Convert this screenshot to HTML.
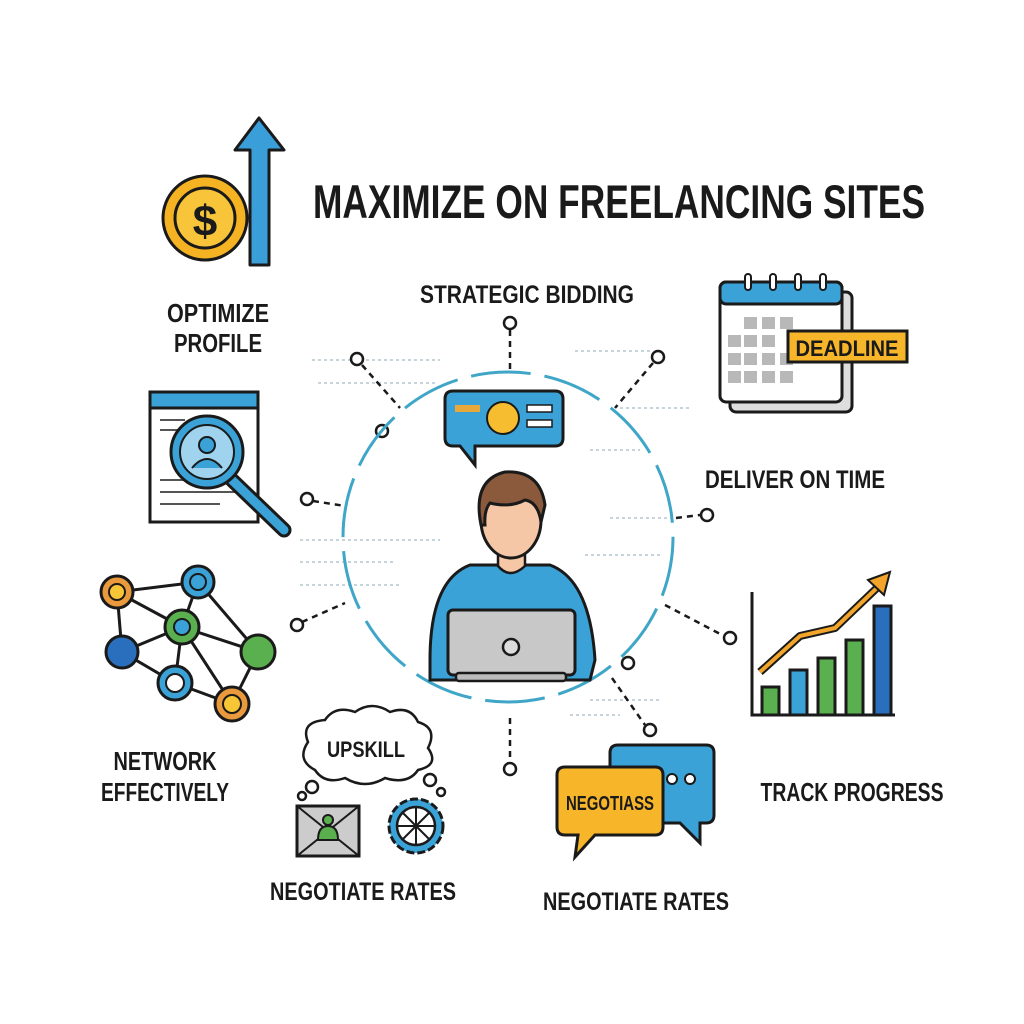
<!DOCTYPE html>
<html><head><meta charset="utf-8"><style>
html,body{margin:0;padding:0;background:#fff}
svg{display:block}
text{font-family:"Liberation Sans",sans-serif;font-weight:bold;fill:#1a1a1a}
</style></head><body>
<svg width="1024" height="1024" viewBox="0 0 1024 1024" xmlns="http://www.w3.org/2000/svg">
<rect width="1024" height="1024" fill="#fff"/>
<g stroke="#c8d4dc" stroke-width="2" stroke-dasharray="3 3">
<line x1="312" y1="360" x2="440" y2="360"/><line x1="318" y1="383" x2="436" y2="383"/>
<line x1="300" y1="540" x2="440" y2="540"/><line x1="300" y1="562" x2="395" y2="562"/>
<line x1="300" y1="585" x2="400" y2="585"/><line x1="575" y1="351" x2="650" y2="351"/>
<line x1="620" y1="408" x2="690" y2="408"/><line x1="590" y1="450" x2="640" y2="450"/>
<line x1="610" y1="518" x2="680" y2="518"/><line x1="585" y1="555" x2="660" y2="555"/>
<line x1="590" y1="700" x2="660" y2="700"/><line x1="570" y1="715" x2="620" y2="715"/>
</g>
<text x="313" y="218" font-size="47" textLength="612" lengthAdjust="spacingAndGlyphs">MAXIMIZE ON FREELANCING SITES</text>
<polygon points="250,265 250,150 235,150 259,118 284,150 269,150 269,265" fill="#3a9fd8" stroke="#1a1a1a" stroke-width="3" stroke-linejoin="round"/>
<circle cx="205" cy="218" r="42" fill="#f5b324" stroke="#1a1a1a" stroke-width="3"/>
<circle cx="205" cy="218" r="30" fill="#f8c53a" stroke="#1a1a1a" stroke-width="3"/>
<text x="205" y="236" font-size="44" text-anchor="middle">$</text>
<text x="218" y="322" font-size="26" text-anchor="middle" textLength="102" lengthAdjust="spacingAndGlyphs">OPTIMIZE</text>
<text x="218" y="352" font-size="26" text-anchor="middle" textLength="88" lengthAdjust="spacingAndGlyphs">PROFILE</text>
<text x="527" y="303" font-size="25" text-anchor="middle" textLength="214" lengthAdjust="spacingAndGlyphs">STRATEGIC BIDDING</text>
<g stroke="#1a1a1a" stroke-width="2.5" stroke-dasharray="6 5" fill="none">
<line x1="510" y1="330" x2="510" y2="370"/><line x1="362" y1="365" x2="400" y2="408"/>
<line x1="653" y1="363" x2="615" y2="408"/><line x1="313" y1="501" x2="345" y2="506"/>
<line x1="676" y1="518" x2="700" y2="515"/><line x1="302" y1="622" x2="345" y2="603"/>
<line x1="665" y1="605" x2="724" y2="636"/><line x1="612" y1="678" x2="645" y2="725"/>
<line x1="510" y1="718" x2="510" y2="763"/>
</g>
<g fill="#fff" stroke="#1a1a1a" stroke-width="2.5">
<circle cx="510" cy="323" r="6"/><circle cx="357" cy="359" r="6"/><circle cx="658" cy="357" r="6"/>
<circle cx="382" cy="431" r="6"/><circle cx="307" cy="499" r="6"/><circle cx="707" cy="515" r="6"/>
<circle cx="297" cy="625" r="6"/><circle cx="730" cy="638" r="6"/><circle cx="628" cy="663" r="6"/>
<circle cx="650" cy="730" r="6"/><circle cx="510" cy="769" r="6"/>
</g>
<circle cx="508" cy="537" r="165" fill="none" stroke="#3fa6c8" stroke-width="3" stroke-dasharray="60 14"/>
<path d="M453,391 H555 Q563,391 563,399 V438 Q563,446 555,446 H475 L475,465 L460,446 H453 Q445,446 445,438 V399 Q445,391 453,391Z" fill="#3aa2d6" stroke="#1a1a1a" stroke-width="3"/>
<rect x="455" y="405" width="25" height="7" fill="#e8a83a"/>
<circle cx="503" cy="418" r="16" fill="#f7bd30" stroke="#1a1a1a" stroke-width="2"/>
<rect x="527" y="405" width="25" height="7" fill="#fff" stroke="#1a1a1a" stroke-width="1.5"/>
<rect x="527" y="420" width="25" height="7" fill="#fff" stroke="#1a1a1a" stroke-width="1.5"/>
<path d="M430,660 Q430,580 470,565 L550,565 Q590,580 595,660 L590,680 L430,680Z" fill="#3aa2d6" stroke="#1a1a1a" stroke-width="3"/>
<path d="M498,555 L498,566 Q510,580 525,566 L525,555Z" fill="#f5c7a6" stroke="#1a1a1a" stroke-width="2.5"/>
<ellipse cx="511" cy="520" rx="30" ry="38" fill="#f5c7a6" stroke="#1a1a1a" stroke-width="3"/>
<path d="M481,525 Q472,480 505,472 Q540,470 545,505 L541,522 Q538,502 525,500 Q510,508 490,503 Q484,510 485,525Z" fill="#8b5a3c" stroke="#1a1a1a" stroke-width="3"/>
<rect x="448" y="610" width="127" height="65" rx="5" fill="#c8c8c8" stroke="#1a1a1a" stroke-width="3"/>
<rect x="456" y="673" width="110" height="8" rx="3" fill="#bbb" stroke="#1a1a1a" stroke-width="2.5"/>
<circle cx="511" cy="647" r="8" fill="#ddd" stroke="#1a1a1a" stroke-width="2.5"/>
<rect x="150" y="392" width="108" height="130" fill="#fff" stroke="#1a1a1a" stroke-width="3"/>
<rect x="150" y="392" width="108" height="16" fill="#3aa2d6" stroke="#1a1a1a" stroke-width="3"/>
<g stroke="#555" stroke-width="2"><line x1="160" y1="420" x2="185" y2="420"/><line x1="160" y1="430" x2="180" y2="430"/><line x1="160" y1="480" x2="240" y2="480"/><line x1="160" y1="492" x2="240" y2="492"/><line x1="160" y1="504" x2="220" y2="504"/></g>
<line x1="232" y1="480" x2="284" y2="530" stroke="#1a1a1a" stroke-width="15" stroke-linecap="round"/>
<line x1="232" y1="480" x2="284" y2="530" stroke="#3aa2d6" stroke-width="9" stroke-linecap="round"/>
<circle cx="207" cy="452" r="36" fill="#3aa2d6" stroke="#1a1a1a" stroke-width="3"/>
<circle cx="207" cy="452" r="27" fill="#9fd3ee" stroke="#1a1a1a" stroke-width="2"/>
<circle cx="207" cy="445" r="8" fill="#3aa2d6" stroke="#1a1a1a" stroke-width="2"/>
<path d="M192,468 Q207,450 222,468" fill="#3aa2d6" stroke="#1a1a1a" stroke-width="2"/>
<rect x="730" y="292" width="122" height="120" rx="6" fill="#ddd" stroke="#1a1a1a" stroke-width="3"/>
<rect x="720" y="282" width="122" height="120" rx="6" fill="#fff" stroke="#1a1a1a" stroke-width="3"/>
<rect x="720" y="282" width="122" height="22" rx="6" fill="#3aa2d6" stroke="#1a1a1a" stroke-width="3"/>
<g fill="#fff" stroke="#1a1a1a" stroke-width="2"><rect x="745" y="274" width="6" height="16" rx="3"/><rect x="770" y="274" width="6" height="16" rx="3"/><rect x="795" y="274" width="6" height="16" rx="3"/><rect x="820" y="274" width="6" height="16" rx="3"/></g>
<g fill="#b8b8b8">
<rect x="744" y="317" width="13" height="12"/><rect x="762" y="317" width="13" height="12"/><rect x="780" y="317" width="13" height="12"/>
<rect x="728" y="335" width="13" height="12"/><rect x="744" y="335" width="13" height="12"/><rect x="762" y="335" width="13" height="12"/>
<rect x="728" y="353" width="13" height="12"/><rect x="744" y="353" width="13" height="12"/><rect x="762" y="353" width="13" height="12"/><rect x="780" y="353" width="13" height="12"/>
<rect x="728" y="371" width="13" height="12"/><rect x="744" y="371" width="13" height="12"/><rect x="762" y="371" width="13" height="12"/><rect x="780" y="371" width="13" height="12"/>
</g>
<rect x="788" y="331" width="119" height="31" fill="#f7b52a" stroke="#1a1a1a" stroke-width="3"/>
<text x="847" y="356" font-size="22" text-anchor="middle" textLength="103" lengthAdjust="spacingAndGlyphs">DEADLINE</text>
<text x="795" y="488" font-size="25" text-anchor="middle" textLength="180" lengthAdjust="spacingAndGlyphs">DELIVER ON TIME</text>
<g stroke="#1a1a1a" stroke-width="3">
<line x1="117" y1="592" x2="198" y2="582"/><line x1="117" y1="592" x2="182" y2="627"/><line x1="117" y1="592" x2="122" y2="652"/>
<line x1="198" y1="582" x2="182" y2="627"/><line x1="198" y1="582" x2="258" y2="652"/><line x1="182" y1="627" x2="122" y2="652"/>
<line x1="182" y1="627" x2="258" y2="652"/><line x1="182" y1="627" x2="175" y2="683"/><line x1="182" y1="627" x2="232" y2="704"/>
<line x1="122" y1="652" x2="175" y2="683"/><line x1="175" y1="683" x2="232" y2="704"/><line x1="258" y1="652" x2="232" y2="704"/>
</g>
<circle cx="117" cy="592" r="16" fill="#ea9a3c" stroke="#1a1a1a" stroke-width="3"/><circle cx="117" cy="592" r="8" fill="#f7c535" stroke="#1a1a1a" stroke-width="2"/>
<circle cx="198" cy="582" r="16" fill="#3aa2d6" stroke="#1a1a1a" stroke-width="3"/><circle cx="198" cy="582" r="8" fill="#3aa2d6" stroke="#1a1a1a" stroke-width="2"/>
<circle cx="182" cy="627" r="17" fill="#5aaf4e" stroke="#1a1a1a" stroke-width="3"/><circle cx="182" cy="627" r="8" fill="#3aa2d6" stroke="#1a1a1a" stroke-width="2"/>
<circle cx="122" cy="652" r="16" fill="#2a6fbd" stroke="#1a1a1a" stroke-width="3"/>
<circle cx="258" cy="652" r="17" fill="#5aaf4e" stroke="#1a1a1a" stroke-width="3"/>
<circle cx="175" cy="683" r="17" fill="#3aa2d6" stroke="#1a1a1a" stroke-width="3"/><circle cx="175" cy="683" r="9" fill="#fff" stroke="#1a1a1a" stroke-width="2"/>
<circle cx="232" cy="704" r="17" fill="#ea9a3c" stroke="#1a1a1a" stroke-width="3"/><circle cx="232" cy="704" r="9" fill="#f7c535" stroke="#1a1a1a" stroke-width="2"/>
<text x="165" y="770" font-size="26" text-anchor="middle" textLength="103" lengthAdjust="spacingAndGlyphs">NETWORK</text>
<text x="165" y="801" font-size="26" text-anchor="middle" textLength="128" lengthAdjust="spacingAndGlyphs">EFFECTIVELY</text>
<polyline points="752,592 752,715 895,715" fill="none" stroke="#1a1a1a" stroke-width="3"/>
<g stroke="#1a1a1a" stroke-width="3">
<rect x="762" y="687" width="17" height="28" fill="#5aaf4e"/><rect x="790" y="670" width="17" height="45" fill="#3aa2d6"/>
<rect x="818" y="658" width="17" height="57" fill="#5aaf4e"/><rect x="846" y="640" width="17" height="75" fill="#5aaf4e"/>
<rect x="874" y="606" width="17" height="109" fill="#2a6fbd"/>
</g>
<polyline points="760,672 800,636 835,628 880,585" fill="none" stroke="#1a1a1a" stroke-width="8" stroke-linejoin="round"/>
<polyline points="760,672 800,636 835,628 880,585" fill="none" stroke="#f2a52a" stroke-width="4" stroke-linejoin="round"/>
<polygon points="868,580 890,572 884,595" fill="#f2a52a" stroke="#1a1a1a" stroke-width="2"/>
<text x="852" y="801" font-size="26" text-anchor="middle" textLength="183" lengthAdjust="spacingAndGlyphs">TRACK PROGRESS</text>
<path d="M315,770 Q296,760 308,742 Q300,722 325,720 Q335,705 355,712 Q372,700 390,712 Q410,705 418,722 Q438,728 428,748 Q440,765 418,770 Q408,785 385,778 Q365,790 345,778 Q325,785 315,770Z" fill="#fff" stroke="#1a1a1a" stroke-width="2.5"/>
<circle cx="312" cy="787" r="6" fill="#fff" stroke="#1a1a1a" stroke-width="2.5"/><circle cx="302" cy="796" r="4" fill="#fff" stroke="#1a1a1a" stroke-width="2.5"/>
<circle cx="430" cy="780" r="6" fill="#fff" stroke="#1a1a1a" stroke-width="2.5"/><circle cx="441" cy="792" r="4" fill="#fff" stroke="#1a1a1a" stroke-width="2.5"/>
<text x="366" y="757" font-size="22" text-anchor="middle" textLength="78" lengthAdjust="spacingAndGlyphs">UPSKILL</text>
<rect x="297" y="806" width="62" height="50" fill="#ccc" stroke="#1a1a1a" stroke-width="3"/>
<path d="M297,806 L359,856 M359,806 L297,856" stroke="#1a1a1a" stroke-width="2"/>
<circle cx="328" cy="820" r="5" fill="#5aaf4e" stroke="#1a1a1a" stroke-width="2"/>
<path d="M318,840 Q318,826 328,826 Q338,826 338,840Z" fill="#5aaf4e" stroke="#1a1a1a" stroke-width="2"/>
<circle cx="416" cy="826" r="27" fill="#3aa2d6" stroke="#1a1a1a" stroke-width="3" stroke-dasharray="8 3"/>
<circle cx="416" cy="826" r="19" fill="#fff" stroke="#1a1a1a" stroke-width="2.5"/>
<g stroke="#1a1a1a" stroke-width="2"><line x1="397" y1="826" x2="435" y2="826"/><line x1="416" y1="807" x2="416" y2="845"/><line x1="403" y1="813" x2="429" y2="839"/><line x1="429" y1="813" x2="403" y2="839"/></g>
<text x="363" y="900" font-size="25" text-anchor="middle" textLength="186" lengthAdjust="spacingAndGlyphs">NEGOTIATE RATES</text>
<path d="M618,745 H706 Q714,745 714,753 V815 Q714,823 706,823 H700 L700,843 L680,823 H618 Q610,823 610,815 V753 Q610,745 618,745Z" fill="#3aa2d6" stroke="#1a1a1a" stroke-width="3"/>
<circle cx="672" cy="779" r="5" fill="#fff" stroke="#1a1a1a" stroke-width="2"/><circle cx="690" cy="779" r="5" fill="#fff" stroke="#1a1a1a" stroke-width="2"/>
<path d="M565,767 H655 Q663,767 663,775 V827 Q663,835 655,835 H595 L575,857 L578,835 H565 Q557,835 557,827 V775 Q557,767 565,767Z" fill="#f7b52a" stroke="#1a1a1a" stroke-width="3"/>
<text x="610" y="810" font-size="20" text-anchor="middle" textLength="88" lengthAdjust="spacingAndGlyphs">NEGOTIASS</text>
<text x="636" y="910" font-size="25" text-anchor="middle" textLength="186" lengthAdjust="spacingAndGlyphs">NEGOTIATE RATES</text>
</svg>
</body></html>
